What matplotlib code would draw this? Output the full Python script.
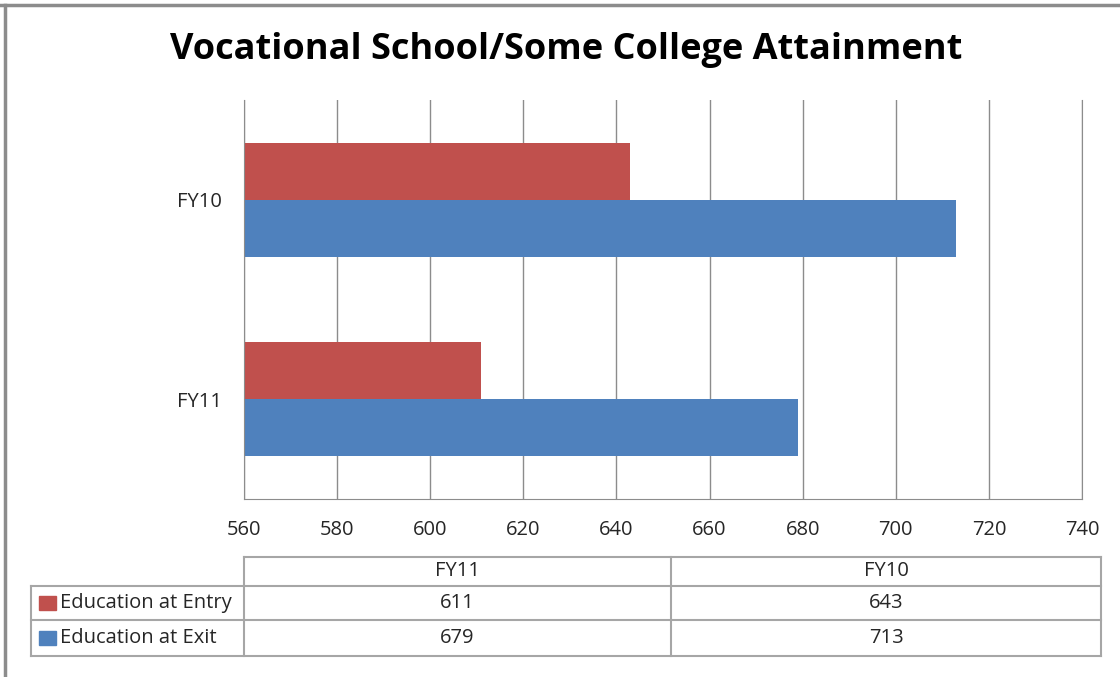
import matplotlib.pyplot as plt
from matplotlib.patches import Rectangle
import numpy as np

title = "Vocational School/Some College Attainment"
years = ["FY11", "FY10"]
series = ["Education at Entry", "Education at Exit"]
entry = [611, 643]
exit_ = [679, 713]
xticks = [560, 580, 600, 620, 640, 660, 680, 700, 720, 740]
colors = ["#C0504D", "#4F81BD"]

plt.rcParams["font.family"] = ["Open Sans", "DejaVu Sans"]
txt = "#262626"
grid = "#8c8c8c"
line = "#a6a6a6"

W, H = 1120, 677
fig = plt.figure(figsize=(W / 100, H / 100), dpi=100)


def px_box(x0, y0, x1, y1):
    return [x0 / W, 1 - y1 / H, (x1 - x0) / W, (y1 - y0) / H]


# bar chart
ax = fig.add_axes(px_box(244, 100, 1082, 499))
y = np.arange(len(years))
h = 0.285
ax.barh(y + h / 2, entry, height=h, color=colors[0], zorder=2)
ax.barh(y - h / 2, exit_, height=h, color=colors[1], zorder=2)
ax.set_xlim(xticks[0], xticks[-1])
ax.set_ylim(-0.5, len(years) - 0.5)
ax.set_xticks(xticks)
ax.set_yticks(y)
ax.set_yticklabels(years)
ax.grid(axis="x", color=grid, lw=1, zorder=0)
ax.set_axisbelow(True)
for s in ["left", "bottom", "right"]:
    ax.spines[s].set_color(grid)
ax.spines["top"].set_visible(False)
ax.tick_params(length=0, labelsize=14.5, colors=txt)
ax.tick_params(axis="x", pad=15)
ax.tick_params(axis="y", pad=16)

fig.text(566 / W, 1 - 50 / H, title, ha="center", va="center",
         fontsize=26, fontweight="bold", color="black")

# frame and data table, drawn in pixel coordinates
ov = fig.add_axes([0, 0, 1, 1], zorder=-1)
ov.set_xlim(0, W)
ov.set_ylim(H, 0)
ov.axis("off")
ov.plot([0, W], [5, 5], color=grid, lw=2.5)
ov.plot([5, 5], [5, H], color=grid, lw=2.5)

xs = [31, 244, 671, 1101]
ys = [557, 586, 620, 656]
ov.plot([xs[1], xs[-1]], [ys[0], ys[0]], color=line, lw=1.5)
for yy in ys[1:]:
    ov.plot([xs[0], xs[-1]], [yy, yy], color=line, lw=1.5)
ov.plot([xs[0], xs[0]], [ys[1], ys[-1]], color=line, lw=1.5)
for xx in xs[1:]:
    ov.plot([xx, xx], [ys[0], ys[-1]], color=line, lw=1.5)

fs = 14.5
for j, yr in enumerate(years):
    cx = (xs[j + 1] + xs[j + 2]) / 2
    ov.text(cx, (ys[0] + ys[1]) / 2, yr, ha="center", va="center",
            fontsize=fs, color=txt)

for i, (name, vals) in enumerate(zip(series, [entry, exit_])):
    cy = (ys[i + 1] + ys[i + 2]) / 2
    ov.add_patch(Rectangle((39, cy - 7), 17, 14, color=colors[i]))
    ov.text(60, cy, name, ha="left", va="center", fontsize=fs, color=txt)
    for j, v in enumerate(vals):
        cx = (xs[j + 1] + xs[j + 2]) / 2
        ov.text(cx, cy, str(v), ha="center", va="center", fontsize=fs, color=txt)

fig.savefig("out.png", dpi=100)
